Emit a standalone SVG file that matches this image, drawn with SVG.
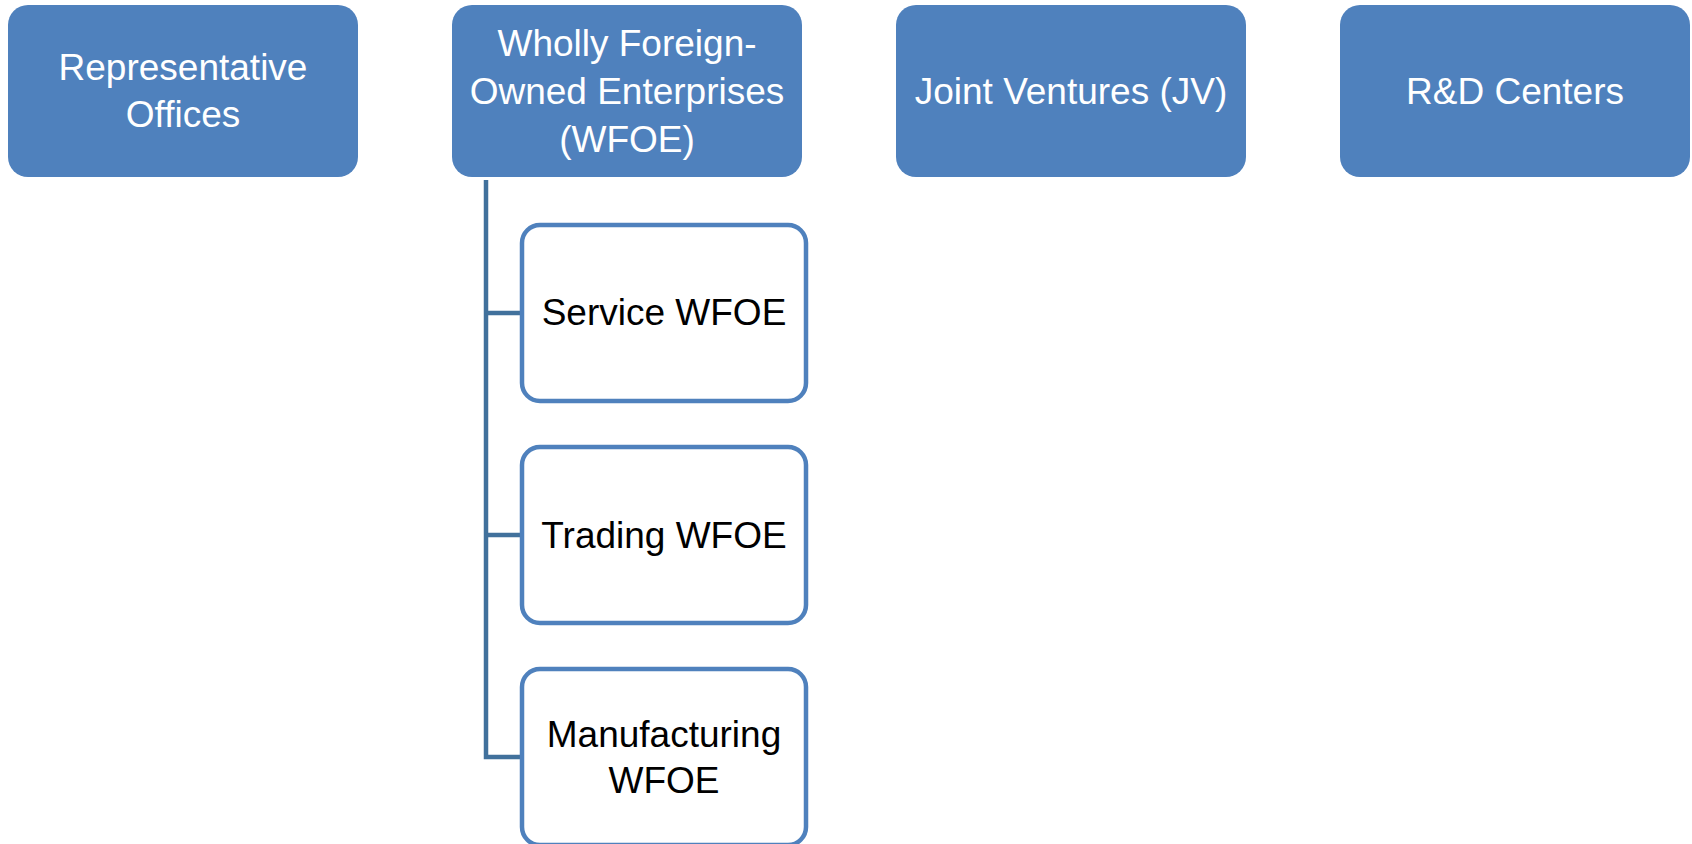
<svg xmlns="http://www.w3.org/2000/svg" width="1692" height="844" viewBox="0 0 1692 844">
<style>
.top rect{fill:#4F81BD;}
.top text{fill:#FFFFFF;font-family:"Liberation Sans",Arial,sans-serif;font-size:37px;text-anchor:middle;}
.child rect{fill:#FFFFFF;stroke:#4F81BD;stroke-width:4.5;}
.child text{fill:#000000;font-family:"Liberation Sans",Arial,sans-serif;font-size:37px;text-anchor:middle;}
.conn{fill:none;stroke:#41719C;stroke-width:4.5;}
</style>
<rect width="1692" height="844" fill="#FFFFFF"/>
<g id="connectors">
<path class="conn" d="M486,180 V757 H522"/>
<path class="conn" d="M486,313 H522"/>
<path class="conn" d="M486,535 H522"/>
</g>
<g id="rep-offices" class="top">
<rect x="8" y="5" width="350" height="172" rx="20"/>
<text x="183" y="80">Representative</text>
<text x="183" y="127">Offices</text>
</g>
<g id="wfoe" class="top">
<rect x="452" y="5" width="350" height="172" rx="20"/>
<text x="627" y="56">Wholly Foreign-</text>
<text x="627" y="104">Owned Enterprises</text>
<text x="627" y="152">(WFOE)</text>
</g>
<g id="jv" class="top">
<rect x="896" y="5" width="350" height="172" rx="20"/>
<text x="1071" y="104">Joint Ventures (JV)</text>
</g>
<g id="rd" class="top">
<rect x="1340" y="5" width="350" height="172" rx="20"/>
<text x="1515" y="104">R&amp;D Centers</text>
</g>
<g id="service-wfoe" class="child">
<rect x="522" y="225" width="284" height="176" rx="18"/>
<text x="664" y="325">Service WFOE</text>
</g>
<g id="trading-wfoe" class="child">
<rect x="522" y="447" width="284" height="176" rx="18"/>
<text x="664" y="548">Trading WFOE</text>
</g>
<g id="manufacturing-wfoe" class="child">
<rect x="522" y="669" width="284" height="176" rx="18"/>
<text x="664" y="747">Manufacturing</text>
<text x="664" y="793">WFOE</text>
</g>
</svg>
